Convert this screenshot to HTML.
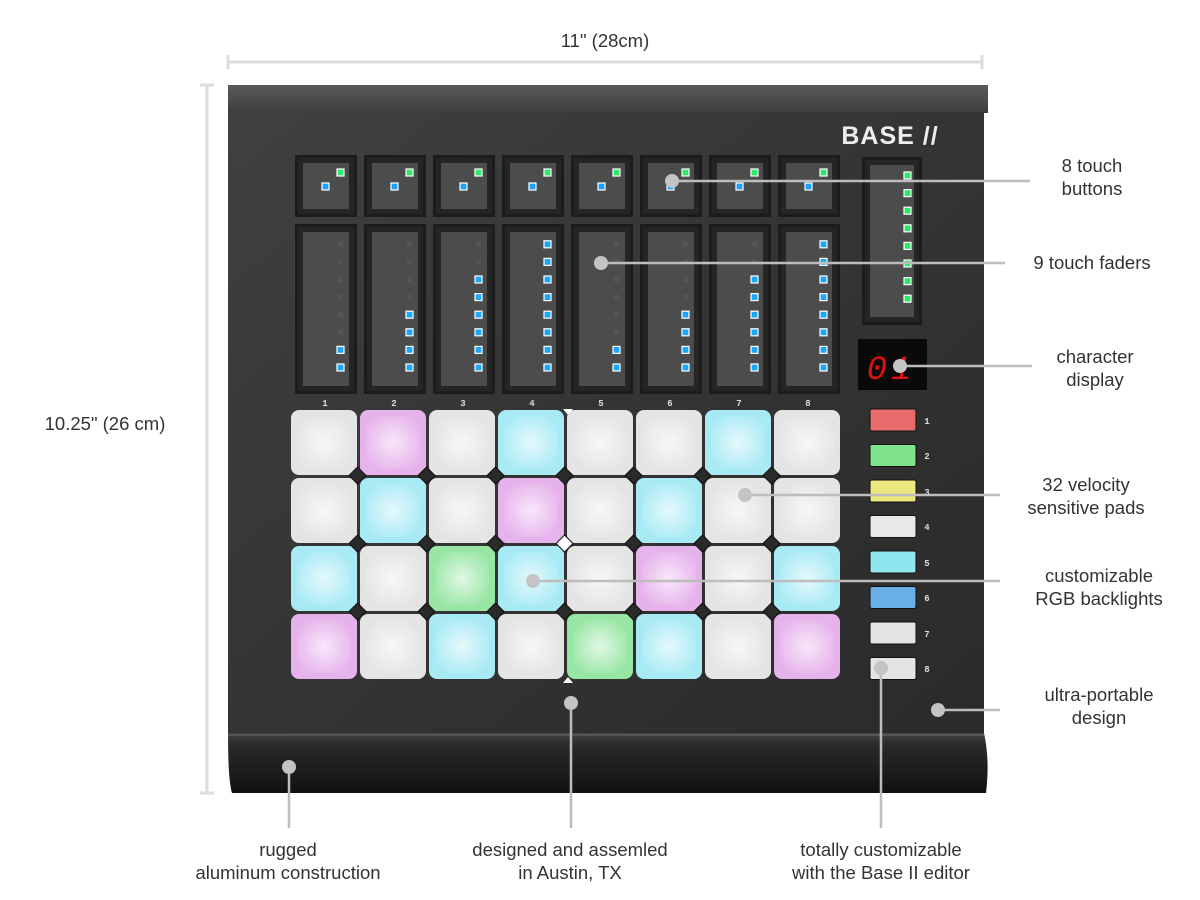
<!DOCTYPE html>
<html><head><meta charset="utf-8"><style>
body{margin:0;background:#fff;width:1200px;height:900px;overflow:hidden;font-family:"Liberation Sans",sans-serif}
svg{position:absolute;left:0;top:0}
.lbl{position:absolute;color:#333;font-size:18.5px;text-align:center;line-height:23px;white-space:nowrap;transform:translateX(-50%)}
</style></head><body>
<svg id="s" width="1200" height="900" xmlns="http://www.w3.org/2000/svg">
<defs>
<linearGradient id="top" x1="0" y1="0" x2="0" y2="1"><stop offset="0" stop-color="#5a5a5a"/><stop offset="1" stop-color="#3e3e3e"/></linearGradient>
<linearGradient id="panel" x1="0" y1="0" x2="1" y2="1"><stop offset="0" stop-color="#404040"/><stop offset="0.5" stop-color="#343434"/><stop offset="1" stop-color="#2a2a2a"/></linearGradient>
<linearGradient id="front" x1="0" y1="0" x2="0" y2="1"><stop offset="0" stop-color="#444"/><stop offset="0.2" stop-color="#2a2a2a"/><stop offset="1" stop-color="#111"/></linearGradient>
<radialGradient id="glow" cx="0.5" cy="0.5" r="0.6"><stop offset="0" stop-color="#fff" stop-opacity="0.7"/><stop offset="1" stop-color="#fff" stop-opacity="0"/></radialGradient>
</defs>
<g stroke="#ddd" stroke-width="3">
<line x1="228" y1="62" x2="982" y2="62"/><line x1="228" y1="55" x2="228" y2="69"/><line x1="982" y1="55" x2="982" y2="69"/>
<line x1="207" y1="85" x2="207" y2="793"/><line x1="200" y1="85" x2="214" y2="85"/><line x1="200" y1="793" x2="214" y2="793"/>
</g>
<rect x="228" y="85" width="760" height="28" fill="url(#top)"/>
<rect x="228" y="112" width="756" height="622" fill="url(#panel)"/>
<path d="M228 733 H984 Q990 760 986 793 H232 Q228 780 228 733Z" fill="url(#front)"/>
<line x1="228" y1="735" x2="984" y2="735" stroke="#555" stroke-width="2"/>
<text x="890" y="144" font-family="Liberation Sans" font-weight="bold" font-size="25" fill="#eee" text-anchor="middle" letter-spacing="1">BASE //</text>
<g id="g"></g>
<rect x="858" y="339" width="69" height="51" fill="#0a0a0a"/>
<text x="891" y="379" font-family="Liberation Mono" font-style="italic" font-size="34" fill="#e01010" text-anchor="middle" letter-spacing="4">01</text>
<g font-family="Liberation Mono" font-size="9" fill="#ddd" text-anchor="middle" font-weight="bold">
<text x="325" y="406">1</text><text x="394" y="406">2</text><text x="463" y="406">3</text><text x="532" y="406">4</text><text x="601" y="406">5</text><text x="670" y="406">6</text><text x="739" y="406">7</text><text x="808" y="406">8</text>
<text x="927" y="424">1</text><text x="927" y="459">2</text><text x="927" y="495">3</text><text x="927" y="530">4</text><text x="927" y="566">5</text><text x="927" y="601">6</text><text x="927" y="637">7</text><text x="927" y="672">8</text>
</g>
<g id="c"></g>
</svg>
<div class="lbl" style="left:605px;top:29px">11" (28cm)</div>
<div class="lbl" style="left:105px;top:412px">10.25" (26 cm)</div>
<div class="lbl" style="left:1092px;top:154px">8 touch<br>buttons</div>
<div class="lbl" style="left:1092px;top:251px">9 touch faders</div>
<div class="lbl" style="left:1095px;top:345px">character<br>display</div>
<div class="lbl" style="left:1086px;top:473px">32 velocity<br>sensitive pads</div>
<div class="lbl" style="left:1099px;top:564px">customizable<br>RGB backlights</div>
<div class="lbl" style="left:1099px;top:683px">ultra-portable<br>design</div>
<div class="lbl" style="left:288px;top:838px">rugged<br>aluminum construction</div>
<div class="lbl" style="left:570px;top:838px">designed and assemled<br>in Austin, TX</div>
<div class="lbl" style="left:881px;top:838px">totally customizable<br>with the Base II editor</div>
<script>
const NS="http://www.w3.org/2000/svg",g=document.getElementById('g'),c=document.getElementById('c');
function el(p,t,a){const e=document.createElementNS(NS,t);for(const k in a)e.setAttribute(k,a[k]);p.appendChild(e);return e;}
function well(x,y,w,h){el(g,'rect',{x,y,width:w,height:h,fill:'#1c1c1c'});el(g,'rect',{x:x+3,y:y+3,width:w-6,height:h-6,fill:'#252525'});el(g,'rect',{x:x+8,y:y+8,width:w-16,height:h-16,fill:'#4c4c4c'});}
function led(x,y,col){el(g,'rect',{x:x-3,y:y-3,width:7,height:7,fill:col,stroke:'#fff',"stroke-width":1.2});}
const lit=[2,4,6,8,2,4,6,8];
for(let i=0;i<8;i++){const x=295+i*69;
 well(x,155,62,62);led(x+45,172,'#2ee86a');led(x+30,186,'#1aa0ff');
 well(x,224,62,170);
 for(let k=0;k<8;k++){const y=367-k*17.6;if(k<lit[i])led(x+45,y,'#1aa8ff');else el(g,'rect',{x:x+43,y:y-2,width:5,height:5,fill:'#555'});}
}
well(862,157,60,168);
for(let k=0;k<8;k++)led(907,175+k*17.6,'#2ee86a');
const C={w:'#e4e4e4',p:'#e6b2ec',c:'#a8eaf4',g:'#98e6a4'};
const rows=["wpwcwwcw","wcwpwcww","cwgcwpwc","pwcwgcwp"];
for(let r=0;r<4;r++)for(let i=0;i<8;i++){const x=291+i*69,y=410+r*68;
 el(g,'rect',{x,y,width:66,height:65,rx:8,fill:C[rows[r][i]]});
 el(g,'rect',{x:x+6,y:y+6,width:54,height:53,rx:10,fill:'url(#glow)'});}
for(let r=1;r<4;r++)for(let i=1;i<8;i++){const x=290+i*69-1.5,y=409+r*68-1.5;
 el(g,'rect',{x:x-6,y:y-6,width:12,height:12,fill:(i==4&&r==2)?'#fff':'#2a2a2a',stroke:'#111',transform:`rotate(45 ${x} ${y})`});}
el(g,'polygon',{points:"563,409 573,409 568,415",fill:'#fff'});el(g,'polygon',{points:"563,683 573,683 568,677",fill:'#fff'});
const sb=['#e86a6a','#80e48c','#ece880','#e8e8e8','#90e6ee','#6aaee6','#e4e4e4','#e4e4e4'];
sb.forEach((f,k)=>{el(g,'rect',{x:870,y:409+k*35.5,width:46,height:22,rx:2,fill:f,stroke:'#111'});});
const L=[[672,181,1030,181],[601,263,1005,263],[900,366,1032,366],[745,495,1000,495],[533,581,1000,581],[938,710,1000,710],[289,767,289,828],[571,703,571,828],[881,668,881,828]];
L.forEach(([a,b,x2,y2])=>{el(c,'line',{x1:a,y1:b,x2,y2,stroke:'#bdbdbd','stroke-width':2.5});el(c,'circle',{cx:a,cy:b,r:7,fill:'#c4c4c4'});});
</script>
</body></html>
